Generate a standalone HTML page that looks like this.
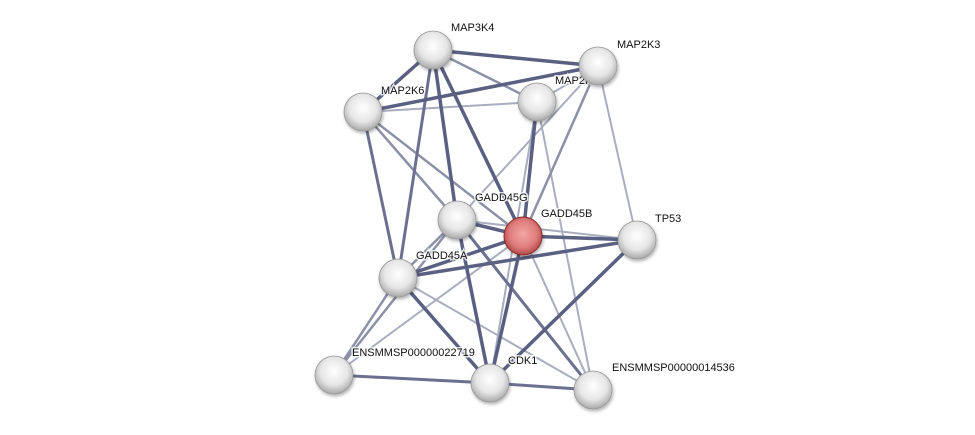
<!DOCTYPE html>
<html><head><meta charset="utf-8"><style>
html,body{margin:0;padding:0;background:#fff;}
svg{display:block;}
text{font-family:"Liberation Sans",sans-serif;font-size:11px;fill:#111;stroke:#fff;stroke-width:3px;stroke-opacity:0.8;paint-order:stroke;}
</style></head><body>
<svg width="975" height="435" viewBox="0 0 975 435" xmlns="http://www.w3.org/2000/svg">
<defs>
<radialGradient id="g" cx="50%" cy="40%" r="60%">
<stop offset="0" stop-color="#ffffff"/><stop offset="0.6" stop-color="#e6e6e6"/><stop offset="1" stop-color="#a8a8a8"/>
</radialGradient>
<radialGradient id="r" cx="50%" cy="45%" r="60%">
<stop offset="0" stop-color="#f4a6a6"/><stop offset="0.6" stop-color="#de7c7c"/><stop offset="1" stop-color="#a83a3a"/>
</radialGradient>
<filter id="sh" x="-30%" y="-30%" width="160%" height="160%">
<feDropShadow dx="1" dy="2" stdDeviation="1.5" flood-color="#000" flood-opacity="0.3"/>
</filter>
</defs>
<g stroke-linecap="round" fill="none">
<g stroke="#a9adbf" stroke-width="2">
<line x1="363" y1="112" x2="537" y2="102"/>
<line x1="537" y1="102" x2="598" y2="66"/>
<line x1="537" y1="102" x2="593" y2="390"/>
<line x1="598" y1="66" x2="637" y2="240"/>
<line x1="598" y1="66" x2="457" y2="220"/>
<line x1="523" y1="236" x2="334" y2="375"/>
<line x1="523" y1="236" x2="593" y2="390"/>
<line x1="398" y1="278" x2="593" y2="390"/>
<line x1="457" y1="220" x2="637" y2="240"/>
<line x1="537" y1="102" x2="490" y2="383"/>
</g>
<g stroke="#8c91a8" stroke-width="2.5">
<line x1="433" y1="50" x2="537" y2="102"/>
<line x1="363" y1="112" x2="457" y2="220"/>
<line x1="363" y1="112" x2="523" y2="236"/>
<line x1="598" y1="66" x2="523" y2="236"/>
<line x1="398" y1="278" x2="334" y2="375"/>
<line x1="457" y1="220" x2="334" y2="375"/>
<line x1="457" y1="220" x2="398" y2="278"/>
</g>
<g stroke="#6b7090" stroke-width="3">
<line x1="363" y1="112" x2="398" y2="278"/>
<line x1="457" y1="220" x2="593" y2="390"/>
<line x1="334" y1="375" x2="490" y2="383"/>
<line x1="490" y1="383" x2="593" y2="390"/>
<line x1="433" y1="50" x2="398" y2="278"/>
</g>
<g stroke="#5a6082" stroke-width="3.5">
<line x1="433" y1="50" x2="598" y2="66"/>
<line x1="433" y1="50" x2="363" y2="112"/>
<line x1="433" y1="50" x2="457" y2="220"/>
<line x1="433" y1="50" x2="523" y2="236"/>
<line x1="363" y1="112" x2="598" y2="66"/>
<line x1="537" y1="102" x2="523" y2="236"/>
<line x1="457" y1="220" x2="523" y2="236"/>
<line x1="457" y1="220" x2="490" y2="383"/>
<line x1="523" y1="236" x2="637" y2="240"/>
<line x1="523" y1="236" x2="398" y2="278"/>
<line x1="523" y1="236" x2="490" y2="383"/>
<line x1="398" y1="278" x2="637" y2="240"/>
<line x1="398" y1="278" x2="490" y2="383"/>
<line x1="637" y1="240" x2="490" y2="383"/>
</g>
</g>
<g filter="url(#sh)">
<circle cx="433" cy="50" r="19" fill="url(#g)" stroke="#999" stroke-width="0.8"/>
<circle cx="537" cy="102" r="19" fill="url(#g)" stroke="#999" stroke-width="0.8"/>
<circle cx="363" cy="112" r="19" fill="url(#g)" stroke="#999" stroke-width="0.8"/>
<circle cx="457" cy="220" r="19" fill="url(#g)" stroke="#999" stroke-width="0.8"/>
<circle cx="523" cy="236" r="19" fill="url(#r)" stroke="#8a2a2a" stroke-width="1"/>
<circle cx="637" cy="240" r="19" fill="url(#g)" stroke="#999" stroke-width="0.8"/>
<circle cx="398" cy="278" r="19" fill="url(#g)" stroke="#999" stroke-width="0.8"/>
<circle cx="334" cy="375" r="19" fill="url(#g)" stroke="#999" stroke-width="0.8"/>
<circle cx="490" cy="383" r="19" fill="url(#g)" stroke="#999" stroke-width="0.8"/>
<circle cx="593" cy="390" r="19" fill="url(#g)" stroke="#999" stroke-width="0.8"/>
</g>
<text x="555" y="84">MAP2K2</text>
<circle cx="598" cy="66" r="19" fill="url(#g)" stroke="#999" stroke-width="0.8" filter="url(#sh)"/>
<text x="451" y="31">MAP3K4</text>
<text x="617" y="48">MAP2K3</text>
<text x="381" y="94">MAP2K6</text>
<text x="475" y="201">GADD45G</text>
<text x="541" y="217">GADD45B</text>
<text x="655" y="222">TP53</text>
<text x="416" y="259">GADD45A</text>
<text x="352" y="356">ENSMMSP00000022719</text>
<text x="508" y="364">CDK1</text>
<text x="612" y="371">ENSMMSP00000014536</text>
</svg>
</body></html>
